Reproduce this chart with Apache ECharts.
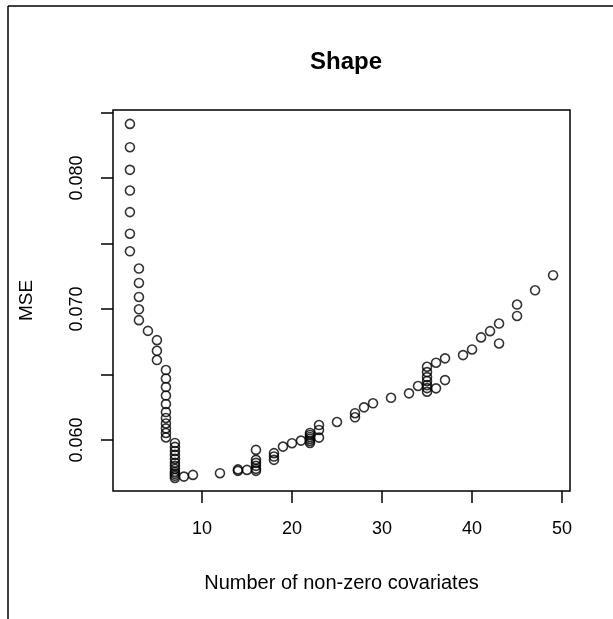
<!DOCTYPE html>
<html>
<head>
<meta charset="utf-8">
<title>Shape</title>
<script src="https://cdn.jsdelivr.net/npm/echarts@6/dist/echarts.min.js"></script>
<style>
    html, body { margin: 0; padding: 0; background: #fff; }
    #chart { width: 613px; height: 619px; }
</style>
</head>
<body>
<div id="chart"></div>
<script>
(function () {
    'use strict';

    // number of non-zero covariates, one entry per fit
    var covariates = [
        2, 2, 2, 2, 2, 2, 2,
        3, 3, 3, 3, 3,
        4,
        5, 5, 5,
        6, 6, 6, 6, 6, 6, 6, 6, 6, 6, 6,
        7, 7, 7, 7, 7, 7, 7, 7, 7, 7, 7, 7,
        8, 9, 12, 14, 14, 15,
        16, 16, 16, 16, 16, 16,
        18, 18, 18, 19, 20, 21,
        22, 22, 22, 22, 22, 22,
        23, 23, 23, 25, 27, 27, 28, 29, 31, 33, 34,
        35, 35, 35, 35, 35, 35, 35,
        36, 36, 37, 37, 39, 40, 41, 42, 43, 43, 45, 45, 47, 49
    ];
    // mean squared error for the same fits
    var mse = [
        0.08414, 0.08236, 0.08063, 0.07905, 0.07740, 0.07575, 0.07441,
        0.07309, 0.07199, 0.07092, 0.06998, 0.06915,
        0.06833,
        0.06762, 0.06681, 0.06610,
        0.06534, 0.06469, 0.06404, 0.06339, 0.06274, 0.06213, 0.06168, 0.06126, 0.06088, 0.06053, 0.06019,
        0.05977, 0.05947, 0.05916, 0.05886, 0.05855, 0.05825, 0.05802, 0.05779, 0.05756, 0.05741, 0.05726, 0.05710,
        0.05720, 0.05733, 0.05746, 0.05764, 0.05775, 0.05771,
        0.05924, 0.05848, 0.05825, 0.05802, 0.05779, 0.05764,
        0.05899, 0.05873, 0.05848, 0.05949, 0.05975, 0.05995,
        0.06053, 0.06038, 0.06023, 0.06008, 0.05992, 0.05977,
        0.06114, 0.06076, 0.06018, 0.06137, 0.06204, 0.06173, 0.06249, 0.06280, 0.06322, 0.06356, 0.06412,
        0.06559, 0.06518, 0.06480, 0.06450, 0.06419, 0.06396, 0.06368,
        0.06590, 0.06394, 0.06623, 0.06457, 0.06648, 0.06691, 0.06783, 0.06831, 0.06889, 0.06737, 0.07034, 0.06947, 0.07143, 0.07258
    ];
    var xTicks = [10, 20, 30, 40, 50];
    var yTicks = [0.060, 0.065, 0.070, 0.075, 0.080, 0.085];
    var yLabels = [0.060, 0.070, 0.080];

    var points = covariates.map(function (c, i) { return [c, mse[i]]; });

    var font = '"Liberation Sans", Arial, sans-serif';
    var mychart = echarts.init(document.getElementById('chart'), null, { renderer: 'canvas' });

    mychart.setOption({
        animation: false,
        backgroundColor: '#fff',
        title: {
            text: 'Shape',
            left: 305,
            top: 45,
            textStyle: { fontFamily: font, fontSize: 24, fontWeight: 'bold', color: '#000' }
        },
        grid: {
            left: 113, right: 43, top: 110, bottom: 128,
            show: true, borderColor: '#000', borderWidth: 1.5, backgroundColor: 'transparent'
        },
        xAxis: {
            type: 'value',
            min: 0.12, max: 50.88,
            name: 'Number of non-zero covariates',
            nameLocation: 'middle',
            nameGap: 82,
            nameTextStyle: { fontFamily: font, fontSize: 20, color: '#000' },
            splitLine: { show: false },
            axisLine: { show: false },
            axisTick: { show: true, customValues: xTicks, length: 12, lineStyle: { color: '#000', width: 1.5 } },
            axisLabel: {
                customValues: xTicks, margin: 29,
                fontFamily: font, fontSize: 18, color: '#000'
            }
        },
        yAxis: {
            type: 'value',
            min: 0.0561, max: 0.0852,
            name: 'MSE',
            nameLocation: 'middle',
            nameGap: 77,
            nameTextStyle: { fontFamily: font, fontSize: 19, color: '#000' },
            splitLine: { show: false },
            axisLine: { show: false },
            axisTick: { show: true, customValues: yTicks, length: 12, lineStyle: { color: '#000', width: 1.5 } },
            axisLabel: {
                customValues: yLabels, rotate: 90, margin: 27,
                fontFamily: font, fontSize: 18, color: '#000',
                formatter: function (v) { return v.toFixed(3); }
            }
        },
        series: [{
            type: 'scatter',
            data: points,
            symbol: 'circle',
            symbolSize: 9,
            itemStyle: { color: 'transparent', borderColor: '#000', borderWidth: 1.6 }
        }],
        graphic: [
            { type: 'line', shape: { x1: 8, y1: 6, x2: 613, y2: 6 }, style: { stroke: '#000', lineWidth: 1.5 } },
            { type: 'line', shape: { x1: 8, y1: 6, x2: 8, y2: 619 }, style: { stroke: '#000', lineWidth: 1.5 } }
        ]
    });
})();
</script>
</body>
</html>
